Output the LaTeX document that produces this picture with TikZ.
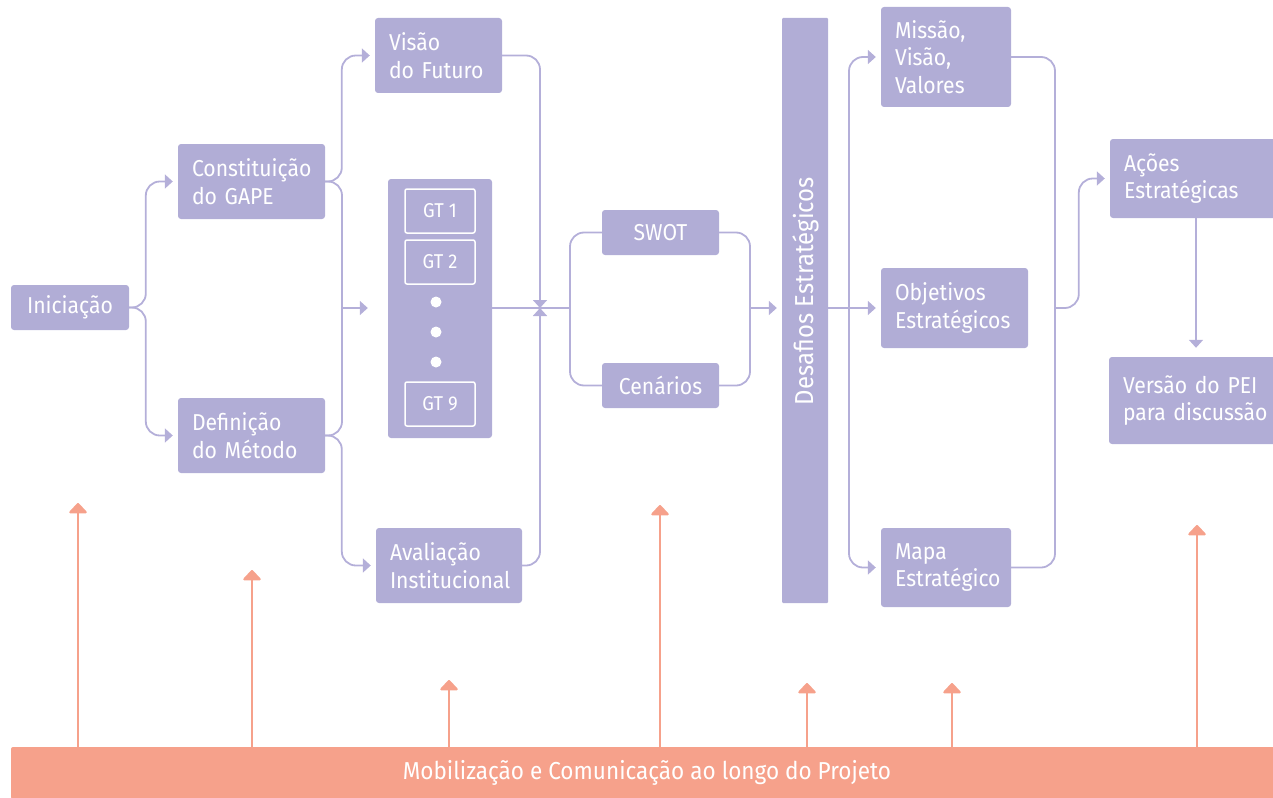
\documentclass[tikz,border=0pt]{standalone}
\usepackage{fontspec}
\setmainfont{Fira Sans}[FakeStretch=0.92]
\usepackage{tikz}
\usetikzlibrary{arrows.meta}
\definecolor{roxo}{HTML}{B1ADD6}
\definecolor{roxolinha}{HTML}{B4AFD9}
\definecolor{salmao}{HTML}{F6A18B}

\begin{document}
\begin{tikzpicture}[x=1pt,y=-1pt,
		caixa/.style={fill=roxo, rounded corners=3pt, text=white, inner xsep=14pt, inner ysep=0pt, align=left, font=\fontsize{23}{27.5}\selectfont},
		gt/.style={draw=white, line width=1.5pt, rounded corners=2pt, minimum width=70pt, minimum height=44pt, text=white, font=\fontsize{20}{24}\selectfont},
		fluxo/.style={draw=roxolinha, line width=1.8pt, rounded corners=14pt},
		seta/.style={-{Triangle[width=14pt,length=8pt]}, shorten >=5pt},
		mob/.style={draw=salmao, line width=2.4pt, -{Triangle[width=20pt,length=11pt,round]}}]
		\clip (0,0) rectangle (1273,797);
		%
		\node[caixa, text width=90pt, align=center, minimum height=45pt] (inic) at (70,307.5) {Iniciação};
		\node[caixa, text width=119pt, minimum height=75pt] (const) at (251.5,181.5) {Constituição\\do GAPE};
		\node[caixa, text width=119pt, minimum height=75pt] (def) at (251.5,435.5) {Definição\\do Método};
		\node[caixa, text width=99pt, minimum height=75pt] (vfut) at (438.5,55.5) {Visão\\do Futuro};
		\node[fill=roxo, rounded corners=3pt, minimum width=104pt, minimum height=259pt] (gts) at (440,308.5) {};
		\node[gt] (gt1) at (440,211) {GT 1};
		\node[gt] (gt2) at (440,262) {GT 2};
		\node[gt] (gt9) at (440,404) {GT 9};
		\foreach \y in {302,332,362}
			\fill[white] (436,\y) circle (5.5pt);
		\node[caixa, text width=118pt, minimum height=75pt] (aval) at (449,565.5) {Avaliação\\Institucional};
		\node[caixa, text width=89pt, align=center, minimum height=45pt] (swot) at (660.5,232.5) {SWOT};
		\node[caixa, text width=89pt, align=center, minimum height=45pt] (cen) at (660.5,385.5) {Cenários};
		\node[fill=roxo, rounded corners=1pt, minimum width=46pt, minimum height=585pt] (desaf) at (805,310.5) {};
		\node[rotate=90, text=white, font=\fontsize{26}{30}\selectfont] (desaftxt) at (806,291) {Desafios Estratégicos};
		\node[caixa, text width=102pt, minimum height=100pt] (missao) at (946,57) {Missão,\\Visão,\\Valores};
		\node[caixa, text width=119pt, minimum height=80pt] (objet) at (954.5,308) {Objetivos\\Estratégicos};
		\node[caixa, text width=102pt, minimum height=79pt] (mapa) at (946,567.5) {Mapa\\Estratégico};
		\node[caixa, text width=144pt, minimum height=79pt] (acoes) at (1196,178.5) {Ações\\Estratégicas};
		\node[caixa, text width=146pt, minimum height=87pt] (versao) at (1196,400.5) {Versão do PEI\\para discussão};
		%
		\coordinate (j1) at (342,308);
		\coordinate (jm) at (540,308);
		\coordinate (j2) at (570,308);
		\coordinate (j3) at (750,308);
		\coordinate (j4) at (849,308);
		\coordinate (j5) at (1055,308);
		%
		% left fork
		\draw[fluxo,seta] (inic.east) -| ([xshift=-32pt]const.west) -- (const.west);
		\draw[fluxo,seta] (inic.east) -| ([xshift=-32pt]def.west) -- (def.west);
		\draw[fluxo] (const.east) -| (j1) |- (def.east);
		\draw[fluxo,seta] (const.east) -| ([xshift=-33pt]vfut.west) -- (vfut.west);
		\draw[fluxo,seta] (def.east) -| ([xshift=-34pt]aval.west) -- (aval.west);
		\draw[fluxo,seta,shorten >=20pt] (j1) -- (j1 -| gts.west);
		% merge into SWOT and Cenarios
		\draw[fluxo,seta,shorten >=0pt] (vfut.east) -| (jm);
		\draw[fluxo,seta,shorten >=0pt] (aval.east) -| (jm);
		\draw[fluxo] (j2 -| gts.east) -- (j2);
		\draw[fluxo] (j2) |- (swot.west);
		\draw[fluxo] (j2) |- (cen.west);
		\draw[fluxo] (swot.east) -| (j3) |- (cen.east);
		\draw[fluxo,seta] (j3) -- (j3 -| desaf.west);
		% desafios
		\draw[fluxo] (j4 -| desaf.east) -- (j4);
		\draw[fluxo,seta] (j4) |- (missao.west);
		\draw[fluxo,seta] (j4) -- (objet.west);
		\draw[fluxo,seta] (j4) |- (mapa.west);
		% right side
		\draw[fluxo] (missao.east) -| (j5) |- (mapa.east);
		\draw[fluxo,seta] (j5) -| ([xshift=-31pt]acoes.west) -- (acoes.west);
		\draw[fluxo,seta,shorten >=9pt] (acoes.south) -- (versao.north);
		%
		% mobilizacao
		\foreach \x/\t [count=\i] in {78/503,252/570,449/680,660/505,807/683,952/683,1197/525} {
			\coordinate (m\i) at (\x,\t);
			\draw[mob] (m\i |- 0,747) -- (m\i);
		}
		\node[fill=salmao, rounded corners=2pt, minimum width=1272pt, minimum height=52pt, text=white, font=\fontsize{24.5}{28}\selectfont] (barra) at (647,773) {Mobilização e Comunicação ao longo do Projeto};
\end{tikzpicture}
\end{document}
